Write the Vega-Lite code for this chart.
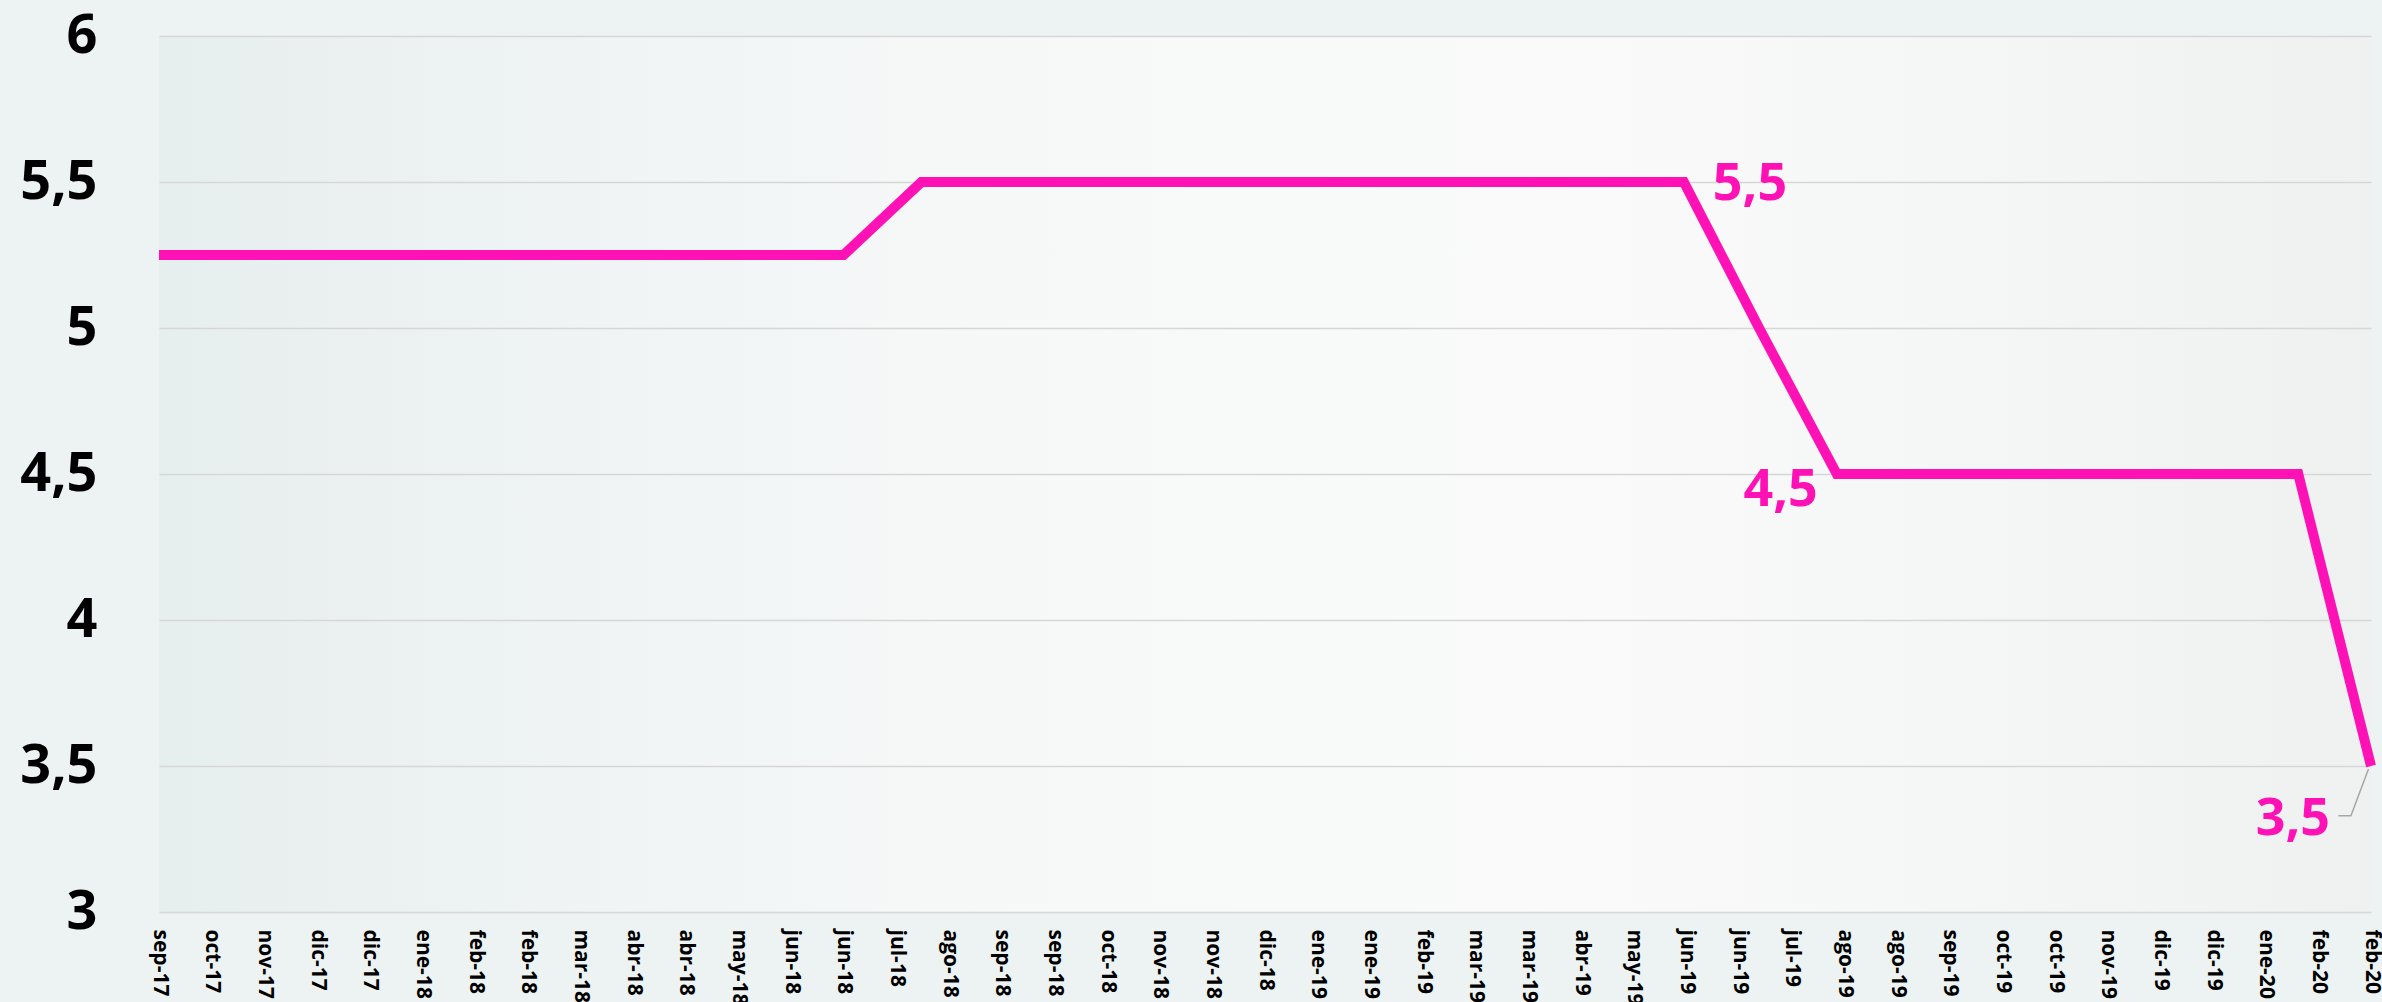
{
  "$schema": "https://vega.github.io/schema/vega-lite/v6.json",
  "width": 2212,
  "height": 876,
  "autosize": {"type": "none"},
  "padding": {"left": 159, "top": 36, "right": 11, "bottom": 90},
  "background": "#edf2f2",
  "config": {
    "view": {
      "stroke": null,
      "fill": {
        "gradient": "linear", "x1": 0, "y1": 0, "x2": 1, "y2": 0,
        "stops": [
          {"offset": 0, "color": "#e7eeee"},
          {"offset": 0.35, "color": "#f6f8f8"},
          {"offset": 0.65, "color": "#fafafa"},
          {"offset": 1, "color": "#eff1f1"}
        ]
      }
    }
  },
  "datasets": {
    "rate": [
      {"date": "2017-09-30", "value": 5.25},
      {"date": "2017-10-31", "value": 5.25},
      {"date": "2017-11-30", "value": 5.25},
      {"date": "2017-12-31", "value": 5.25},
      {"date": "2018-01-31", "value": 5.25},
      {"date": "2018-02-28", "value": 5.25},
      {"date": "2018-03-31", "value": 5.25},
      {"date": "2018-04-30", "value": 5.25},
      {"date": "2018-05-31", "value": 5.25},
      {"date": "2018-06-30", "value": 5.25},
      {"date": "2018-07-31", "value": 5.5},
      {"date": "2018-08-31", "value": 5.5},
      {"date": "2018-09-30", "value": 5.5},
      {"date": "2018-10-31", "value": 5.5},
      {"date": "2018-11-30", "value": 5.5},
      {"date": "2018-12-31", "value": 5.5},
      {"date": "2019-01-31", "value": 5.5},
      {"date": "2019-02-28", "value": 5.5},
      {"date": "2019-03-31", "value": 5.5},
      {"date": "2019-04-30", "value": 5.5},
      {"date": "2019-05-31", "value": 5.5, "label": "5,5"},
      {"date": "2019-06-30", "value": 5.0},
      {"date": "2019-07-31", "value": 4.5, "label": "4,5"},
      {"date": "2019-08-31", "value": 4.5},
      {"date": "2019-09-30", "value": 4.5},
      {"date": "2019-10-31", "value": 4.5},
      {"date": "2019-11-30", "value": 4.5},
      {"date": "2019-12-31", "value": 4.5},
      {"date": "2020-01-31", "value": 4.5},
      {"date": "2020-02-29", "value": 3.5, "label": "3,5"}
    ],
    "leader": [
      {"date": "2020-02-16", "value": 3.33, "order": 0},
      {"date": "2020-02-21", "value": 3.33, "order": 1},
      {"date": "2020-02-28", "value": 3.49, "order": 2}
    ]
  },
  "encoding": {
    "x": {
      "field": "date",
      "type": "temporal",
      "scale": {
        "type": "utc",
        "nice": false,
        "domain": [
          {"year": 2017, "month": 9, "date": 30, "utc": true},
          {"year": 2020, "month": 2, "date": 29, "utc": true}
        ]
      },
      "axis": {
        "title": null,
        "domain": false,
        "ticks": false,
        "grid": false,
        "labelAngle": 90,
        "labelAlign": "left",
        "labelBaseline": "middle",
        "labelPadding": 17,
        "labelFont": "Open Sans",
        "labelFontSize": 21,
        "labelFontWeight": "bold",
        "labelColor": "#000000",
        "labelOverlap": false,
        "labelFlush": false,
        "labelBound": false,
        "labelExpr": "['ene','feb','mar','abr','may','jun','jul','ago','sep','oct','nov','dic'][utcmonth(datum.value)] + '-' + slice(toString(utcyear(datum.value)), 2)",
        "values": [
          {"year": 2017, "month": 9, "date": 30, "utc": true},
          {"year": 2017, "month": 10, "date": 21, "utc": true},
          {"year": 2017, "month": 11, "date": 11, "utc": true},
          {"year": 2017, "month": 12, "date": 2, "utc": true},
          {"year": 2017, "month": 12, "date": 23, "utc": true},
          {"year": 2018, "month": 1, "date": 13, "utc": true},
          {"year": 2018, "month": 2, "date": 3, "utc": true},
          {"year": 2018, "month": 2, "date": 24, "utc": true},
          {"year": 2018, "month": 3, "date": 17, "utc": true},
          {"year": 2018, "month": 4, "date": 7, "utc": true},
          {"year": 2018, "month": 4, "date": 28, "utc": true},
          {"year": 2018, "month": 5, "date": 19, "utc": true},
          {"year": 2018, "month": 6, "date": 9, "utc": true},
          {"year": 2018, "month": 6, "date": 30, "utc": true},
          {"year": 2018, "month": 7, "date": 21, "utc": true},
          {"year": 2018, "month": 8, "date": 11, "utc": true},
          {"year": 2018, "month": 9, "date": 1, "utc": true},
          {"year": 2018, "month": 9, "date": 22, "utc": true},
          {"year": 2018, "month": 10, "date": 13, "utc": true},
          {"year": 2018, "month": 11, "date": 3, "utc": true},
          {"year": 2018, "month": 11, "date": 24, "utc": true},
          {"year": 2018, "month": 12, "date": 15, "utc": true},
          {"year": 2019, "month": 1, "date": 5, "utc": true},
          {"year": 2019, "month": 1, "date": 26, "utc": true},
          {"year": 2019, "month": 2, "date": 16, "utc": true},
          {"year": 2019, "month": 3, "date": 9, "utc": true},
          {"year": 2019, "month": 3, "date": 30, "utc": true},
          {"year": 2019, "month": 4, "date": 20, "utc": true},
          {"year": 2019, "month": 5, "date": 11, "utc": true},
          {"year": 2019, "month": 6, "date": 1, "utc": true},
          {"year": 2019, "month": 6, "date": 22, "utc": true},
          {"year": 2019, "month": 7, "date": 13, "utc": true},
          {"year": 2019, "month": 8, "date": 3, "utc": true},
          {"year": 2019, "month": 8, "date": 24, "utc": true},
          {"year": 2019, "month": 9, "date": 14, "utc": true},
          {"year": 2019, "month": 10, "date": 5, "utc": true},
          {"year": 2019, "month": 10, "date": 26, "utc": true},
          {"year": 2019, "month": 11, "date": 16, "utc": true},
          {"year": 2019, "month": 12, "date": 7, "utc": true},
          {"year": 2019, "month": 12, "date": 28, "utc": true},
          {"year": 2020, "month": 1, "date": 18, "utc": true},
          {"year": 2020, "month": 2, "date": 8, "utc": true},
          {"year": 2020, "month": 2, "date": 29, "utc": true}
        ]
      }
    },
    "y": {
      "field": "value",
      "type": "quantitative",
      "scale": {"domain": [3, 6], "nice": false, "zero": false},
      "axis": {
        "title": null,
        "domain": false,
        "ticks": false,
        "grid": true,
        "gridColor": "#d6d6d6",
        "gridWidth": 1.5,
        "values": [3, 3.5, 4, 4.5, 5, 5.5, 6],
        "labelExpr": "replace(format(datum.value, '~g'), '.', ',')",
        "labelPadding": 62,
        "labelFont": "Open Sans",
        "labelFontSize": 54,
        "labelFontWeight": "bold",
        "labelColor": "#000000",
        "labelBaseline": "middle",
        "labelFlush": false,
        "labelBound": false
      }
    }
  },
  "layer": [
    {
      "data": {"name": "leader"},
      "mark": {"type": "line", "color": "#a6a6a6", "strokeWidth": 1.5},
      "encoding": {"order": {"field": "order", "type": "quantitative"}}
    },
    {
      "data": {"name": "rate"},
      "mark": {"type": "line", "color": "#ff12b5", "strokeWidth": 10}
    },
    {
      "data": {"name": "rate"},
      "transform": [{"filter": "datum.label == '5,5'"}],
      "mark": {"type": "text", "align": "left", "baseline": "middle", "dx": 29, "dy": 2, "font": "Open Sans", "fontSize": 52, "fontWeight": "bold", "color": "#ff12b5"},
      "encoding": {"text": {"field": "label"}}
    },
    {
      "data": {"name": "rate"},
      "transform": [{"filter": "datum.label == '4,5'"}],
      "mark": {"type": "text", "align": "right", "baseline": "middle", "dx": -19, "dy": 16, "font": "Open Sans", "fontSize": 52, "fontWeight": "bold", "color": "#ff12b5"},
      "encoding": {"text": {"field": "label"}}
    },
    {
      "data": {"name": "rate"},
      "transform": [{"filter": "datum.label == '3,5'"}],
      "mark": {"type": "text", "align": "right", "baseline": "middle", "dx": -41, "dy": 53, "font": "Open Sans", "fontSize": 52, "fontWeight": "bold", "color": "#ff12b5"},
      "encoding": {"text": {"field": "label"}}
    }
  ]
}
